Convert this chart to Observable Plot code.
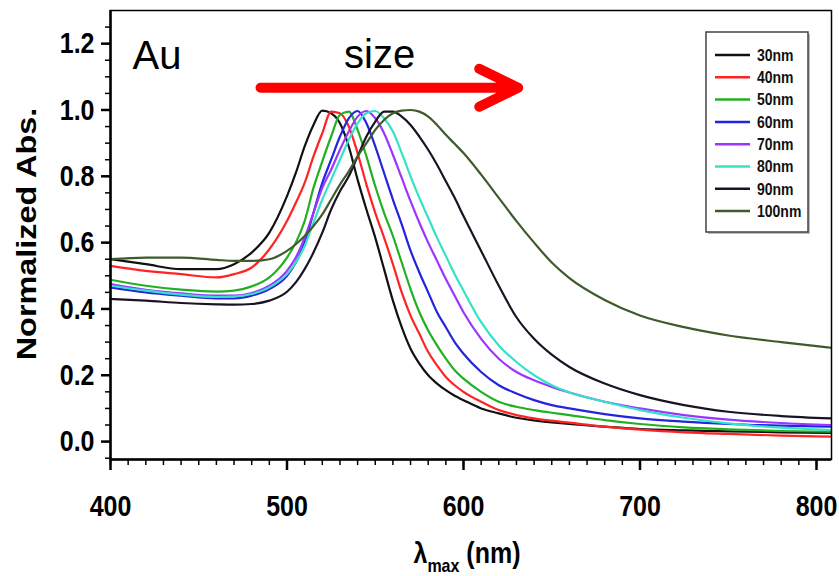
<!DOCTYPE html>
<html><head><meta charset="utf-8">
<script src="https://cdn.jsdelivr.net/npm/d3@7"></script>
<script src="https://cdn.jsdelivr.net/npm/@observablehq/plot@0.6"></script>
<style>body{margin:0;background:#fff;} #chart{width:839px;height:576px;}</style>
</head><body><div id="chart"></div>
<script>
// wavelength grid (nm)
const wavelengths = [400,420,440,460,470,480,490,500,505,510,515,520,525,530,535,540,545,550,555,560,565,570,575,580,585,590,595,600,610,620,630,640,650,660,680,700,725,750,780,808];
const sizes = ["30nm","40nm","50nm","60nm","70nm","80nm","90nm","100nm"];
const colors = ["#111111","#ff2424","#22b022","#2424dc","#9b35ff","#33e3c8","#1c1224","#3f5b2c"];
const abs30 = [0.55,0.535,0.52,0.52,0.535,0.57,0.63,0.74,0.81,0.89,0.955,0.998,0.99,0.96,0.89,0.79,0.70,0.615,0.52,0.425,0.345,0.28,0.235,0.20,0.175,0.155,0.138,0.125,0.10,0.085,0.072,0.064,0.058,0.053,0.045,0.038,0.034,0.031,0.028,0.026];
const abs40 = [0.53,0.515,0.505,0.495,0.505,0.525,0.58,0.665,0.72,0.78,0.86,0.93,0.995,0.99,0.95,0.87,0.775,0.69,0.615,0.535,0.45,0.38,0.325,0.27,0.23,0.195,0.17,0.15,0.12,0.095,0.08,0.07,0.063,0.057,0.045,0.036,0.028,0.023,0.018,0.015];
const abs50 = [0.488,0.47,0.458,0.452,0.455,0.468,0.495,0.555,0.60,0.665,0.765,0.845,0.92,0.985,0.995,0.94,0.86,0.77,0.69,0.62,0.54,0.46,0.39,0.335,0.29,0.25,0.215,0.19,0.15,0.12,0.105,0.095,0.087,0.08,0.065,0.053,0.043,0.037,0.032,0.03];
const abs60 = [0.465,0.45,0.44,0.432,0.432,0.44,0.46,0.50,0.54,0.60,0.69,0.78,0.85,0.92,0.975,0.997,0.96,0.89,0.81,0.73,0.655,0.576,0.51,0.45,0.39,0.345,0.30,0.265,0.21,0.17,0.145,0.125,0.11,0.10,0.083,0.07,0.06,0.053,0.048,0.045];
const abs70 = [0.475,0.458,0.447,0.44,0.44,0.448,0.47,0.515,0.555,0.615,0.69,0.765,0.82,0.88,0.935,0.98,0.997,0.975,0.93,0.865,0.795,0.725,0.66,0.60,0.545,0.49,0.44,0.39,0.31,0.25,0.21,0.185,0.165,0.148,0.12,0.10,0.08,0.066,0.056,0.05];
const abs80 = [0.47,0.455,0.443,0.436,0.437,0.445,0.465,0.505,0.54,0.59,0.66,0.73,0.79,0.85,0.91,0.96,0.99,0.997,0.975,0.935,0.87,0.80,0.735,0.675,0.615,0.56,0.505,0.455,0.36,0.29,0.24,0.20,0.17,0.148,0.12,0.095,0.072,0.055,0.042,0.035];
const abs90 = [0.43,0.425,0.418,0.414,0.413,0.415,0.425,0.452,0.48,0.52,0.57,0.63,0.70,0.755,0.80,0.86,0.92,0.965,0.995,0.995,0.98,0.955,0.92,0.88,0.835,0.785,0.735,0.68,0.575,0.47,0.375,0.31,0.262,0.225,0.175,0.14,0.11,0.09,0.077,0.07];
const abs100 = [0.55,0.555,0.555,0.548,0.545,0.545,0.55,0.575,0.595,0.62,0.65,0.685,0.73,0.775,0.815,0.86,0.90,0.94,0.97,0.99,0.998,1.0,0.995,0.98,0.955,0.925,0.898,0.87,0.805,0.735,0.665,0.6,0.54,0.493,0.427,0.38,0.345,0.32,0.30,0.283];
const xTicks = [400,500,600,700,800];
const xMinorTicks = d3.range(400, 801, 10);
const yTicks = [0,0.2,0.4,0.6,0.8,1.0,1.2];
const yMinorTicks = d3.range(-0.05, 1.26, 0.05);
const xDomain = [400, 808.5];
const yDomain = [-0.054, 1.3];

const series = [abs30,abs40,abs50,abs60,abs70,abs80,abs90,abs100];
const rows = sizes.flatMap((s, k) => wavelengths.map((w, i) => ({wl: w, a: series[k][i], size: s})));
const arrowData = [{x1: 485, x2: 631, y: 1.067}];
const noteAu = [{x: 412.5, y: 1.124, t: "Au"}];
const noteSize = [{x: 552.5, y: 1.127, t: "size"}];
const font = "'Liberation Sans', Arial, sans-serif";

const svg = Plot.plot({
  width: 839, height: 576,
  marginTop: 10, marginRight: 8, marginBottom: 117, marginLeft: 110,
  style: {fontFamily: font, fontSize: "25px", fontWeight: "bold", background: "white", color: "black"},
  x: {domain: xDomain},
  y: {domain: yDomain},
  color: {domain: sizes, range: colors},
  marks: [
    Plot.axisY(yMinorTicks, {tickSize: 5, tickFormat: () => "", strokeWidth: 1.5, label: null}),
    Plot.axisY(yTicks, {tickSize: 9, tickPadding: 7, tickFormat: d3.format(".1f"), strokeWidth: 2.5, label: null}),
    Plot.axisX(xMinorTicks, {tickSize: 6, tickFormat: () => "", strokeWidth: 1.5, label: null}),
    Plot.axisX(xTicks, {tickSize: 11, tickPadding: 26, strokeWidth: 2.5, label: null}),
    Plot.line(rows, {x: "wl", y: "a", z: "size", stroke: "size", strokeWidth: 2.2, curve: "monotone-x"}),
    Plot.frame({stroke: "#000", strokeWidth: 1.5}),
    Plot.ruleX([xDomain[0]], {strokeWidth: 2.5}),
    Plot.ruleY([yDomain[0]], {strokeWidth: 2.5}),
    Plot.arrow(arrowData, {x1: "x1", x2: "x2", y1: "y", y2: "y", stroke: "#ff0000", strokeWidth: 10, headLength: 6.5, headAngle: 52, strokeLinecap: "round", strokeLinejoin: "round"}),
    Plot.text(noteAu, {x: "x", y: "y", text: "t", textAnchor: "start", lineAnchor: "bottom", fontSize: 40, fontWeight: "normal", fontFamily: font, fill: "black"}),
    Plot.text(noteSize, {x: "x", y: "y", text: "t", textAnchor: "middle", lineAnchor: "bottom", fontSize: 40, fontWeight: "normal", fontFamily: font, fill: "black"})
  ]
});
document.getElementById("chart").appendChild(svg);
const S = d3.select(svg);

// vertical stretch of text (reference glyphs are tall)
function stretch(el, k) {
  const b = el.getBBox();
  const cy = b.y + b.height / 2;
  const t = el.getAttribute("transform") || "";
  el.setAttribute("transform", `${t} translate(0,${cy}) scale(1,${k}) translate(0,${-cy})`);
}
S.selectAll("g[aria-label='y-axis tick label'] text, g[aria-label='x-axis tick label'] text").each(function(){ stretch(this, 1.2); });

// axis titles
S.append("text").attr("transform", "translate(36,234) scale(1,1.2) rotate(-90)")
  .attr("text-anchor", "middle").attr("font-size", 27).attr("font-weight", "bold").text("Normalized Abs.");
const xt = S.append("text").attr("transform", "translate(467,563) scale(1,1.15)")
  .attr("text-anchor", "middle").attr("font-size", 25).attr("font-weight", "bold");
xt.append("tspan").text("λ");
xt.append("tspan").attr("font-size", 16).attr("dy", 8).text("max");
xt.append("tspan").attr("dy", -8).text(" (nm)");

// legend
const lg = S.append("g").attr("font-family", font).attr("text-anchor", "start");
lg.append("rect").attr("x", 708).attr("y", 34).attr("width", 102).attr("height", 200).attr("fill", "#bbb");
lg.append("rect").attr("x", 706).attr("y", 32).attr("width", 102).attr("height", 200).attr("fill", "white").attr("stroke", "#444").attr("stroke-width", 1.5);
sizes.forEach((s, i) => {
  const y = 55 + i * 22.3;
  lg.append("line").attr("x1", 715).attr("x2", 750).attr("y1", y).attr("y2", y).attr("stroke", colors[i]).attr("stroke-width", 2.5);
  const t = lg.append("text").attr("x", 757).attr("y", y).attr("dy", "0.35em").attr("text-anchor", "start").attr("font-size", 14).attr("font-weight", "bold").attr("fill", "#111").text(s);
  stretch(t.node(), 1.2);
});
</script>
</body></html>
